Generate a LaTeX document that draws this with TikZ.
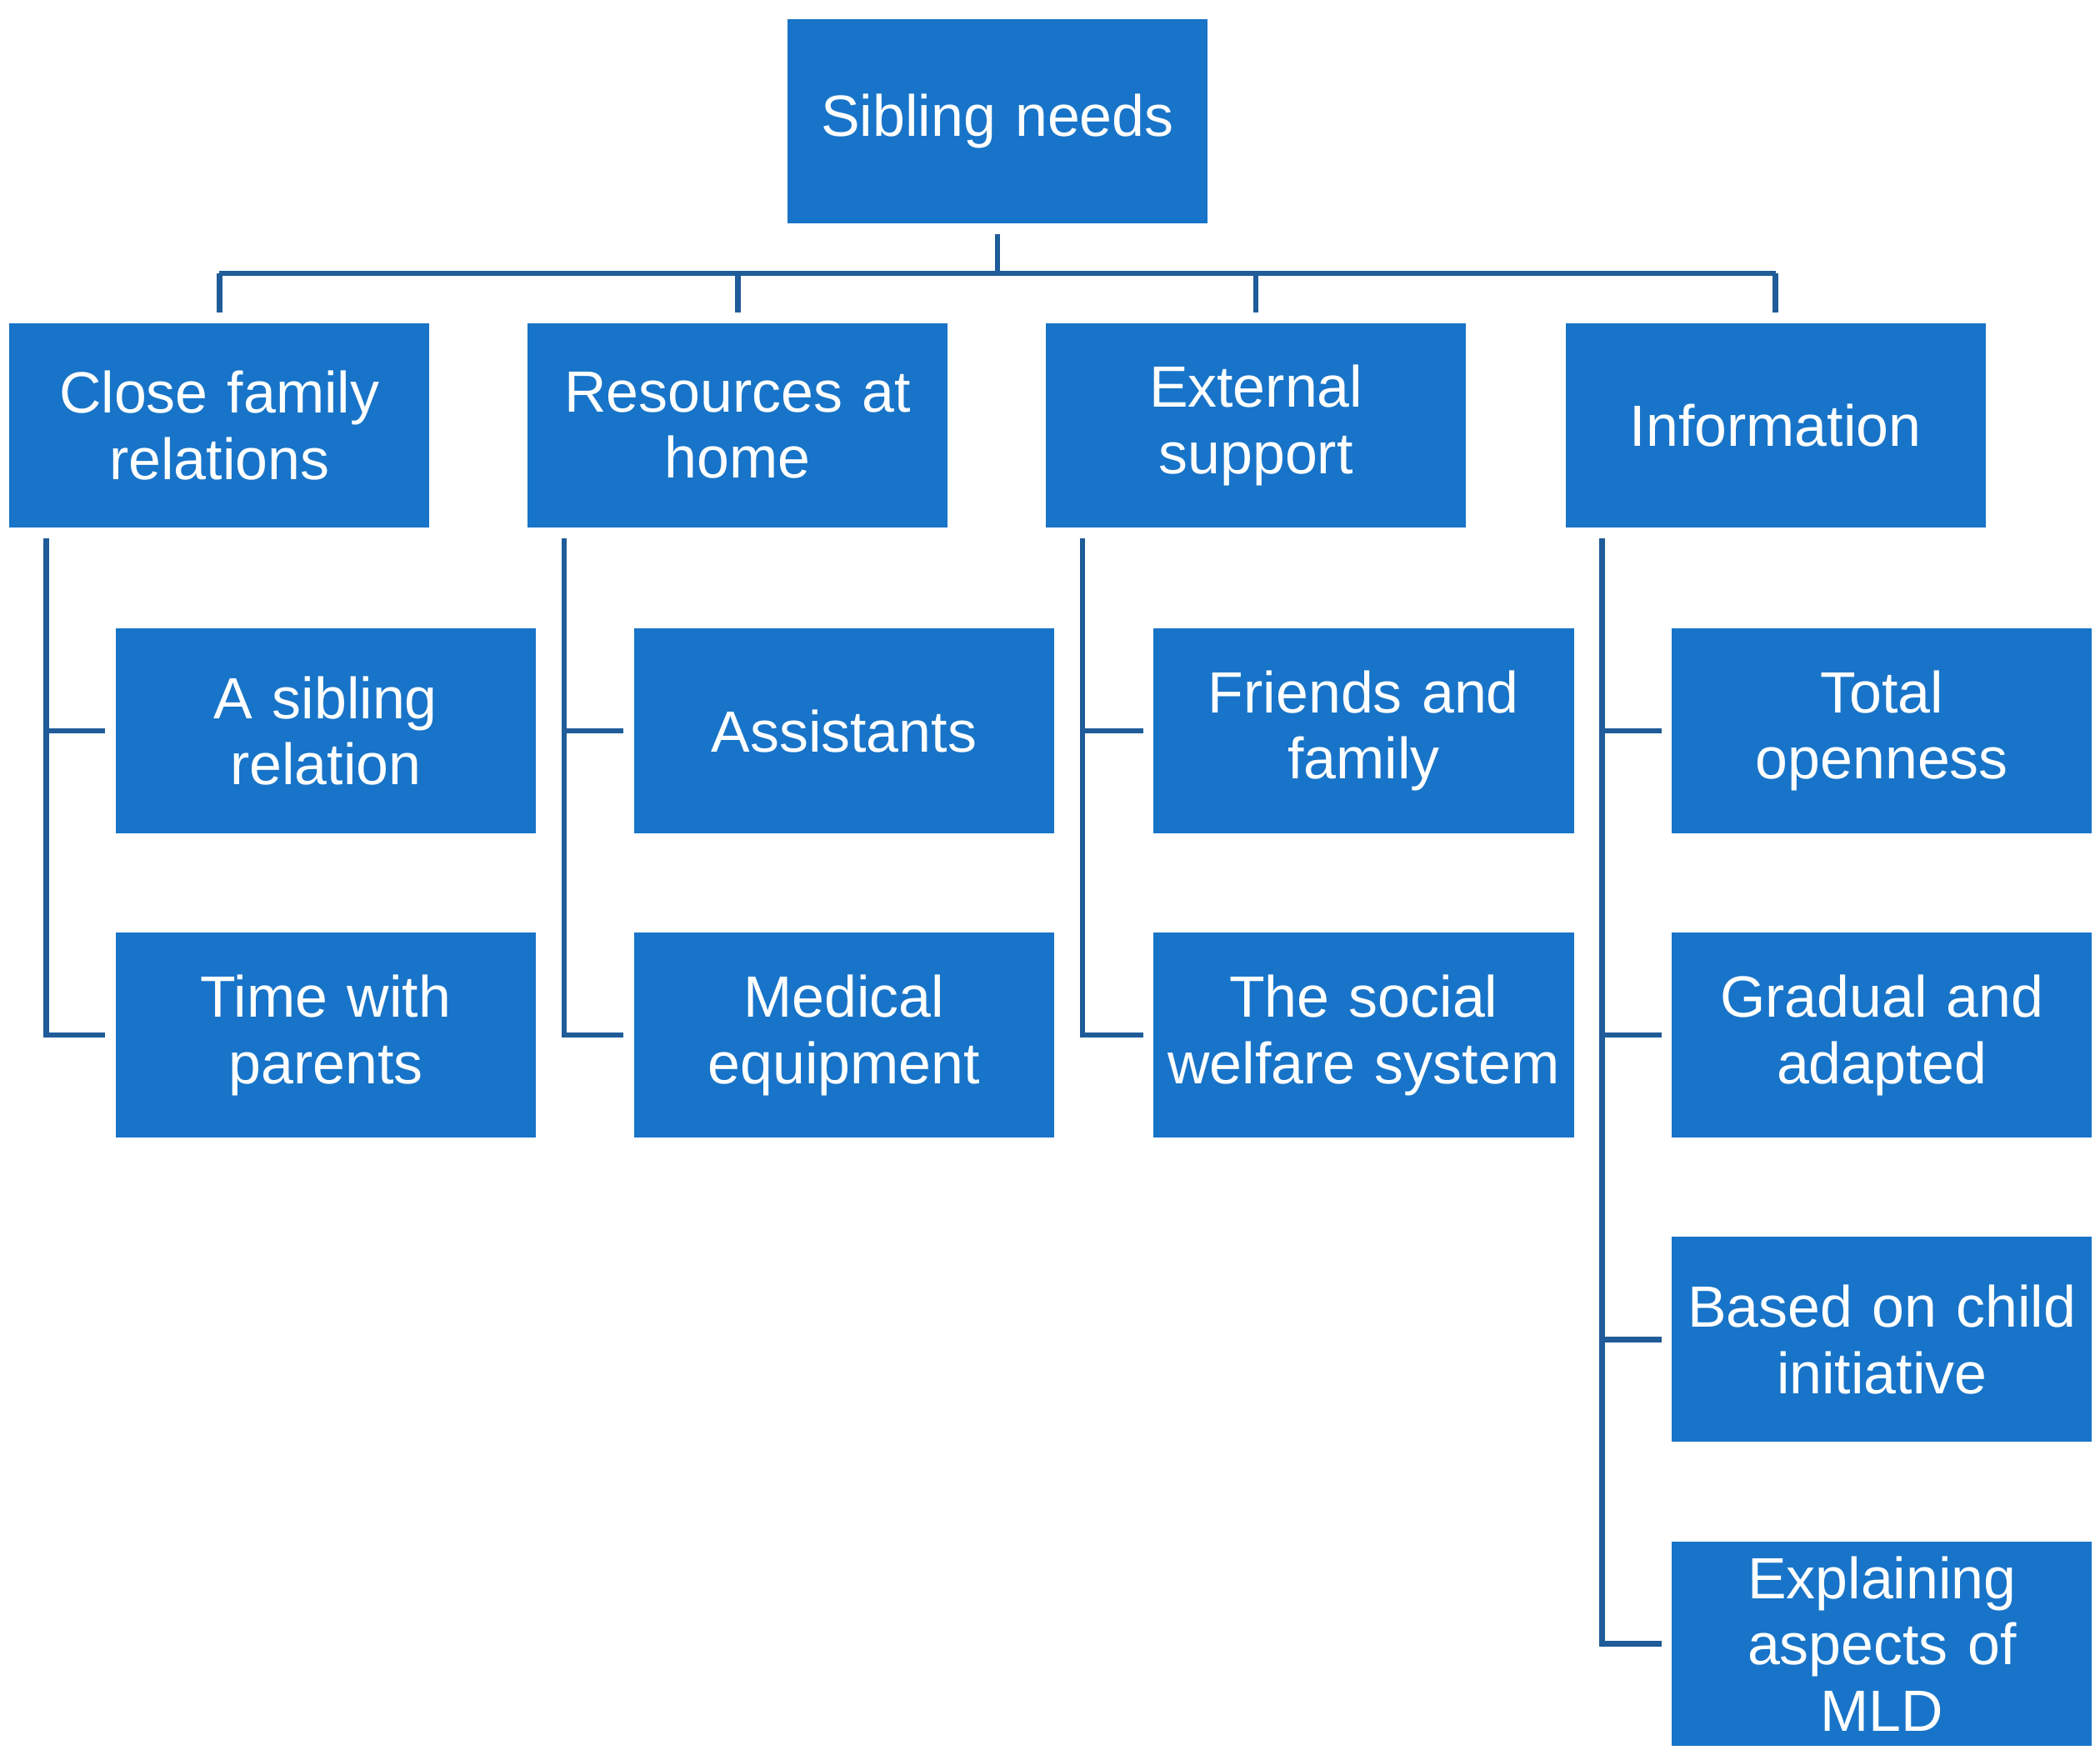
\documentclass[tikz,border=0pt]{standalone}
\usepackage{fontspec}
\setmainfont{Liberation Sans}
\begin{document}
\begin{tikzpicture}[x=0.01cm,y=-0.01cm,
  box/.style={draw=none,fill={rgb,255:red,24;green,116;blue,200},text=white,minimum width=3.12cm,minimum height=1.52cm,inner sep=0pt,align=center,text width=3.12cm,font=\fontsize{12.3}{14}\selectfont},
  ln/.style={draw={rgb,255:red,31;green,92;blue,153},line width=1.15pt}]
\useasboundingbox (0,0) rectangle (1560,1307);
\node[box] (root) at (741,90) {Sibling needs};
\foreach \n/\x/\t in {a/163/{Close family\\relations},b/548/{Resources at\\home},c/933/{External\\support},d/1319/{Information}}
  \node[box] (\n) at (\x,316) {\t};
\node[box] (a1) at (242,543) {A sibling\\relation};
\node[box] (a2) at (242,769) {Time with\\parents};
\node[box] (b1) at (627,543) {Assistants};
\node[box] (b2) at (627,769) {Medical\\equipment};
\node[box] (c1) at (1013,543) {Friends and\\family};
\node[box] (c2) at (1013,769) {The social\\welfare system};
\node[box] (d1) at (1398,543) {Total\\openness};
\node[box] (d2) at (1398,769) {Gradual and\\adapted};
\node[box] (d3) at (1398,995) {Based on child\\initiative};
\node[box] (d4) at (1398,1221) {Explaining\\aspects of\\MLD};
\coordinate (bus) at (741,203);
\draw[ln] ([yshift=-0.07cm]root.south) -- (bus);
\foreach \n in {a,b,c,d}
  \draw[ln] (bus -| \n.north) -- ([yshift=0.07cm]\n.north);
\draw[ln] (bus -| a.north) -- (bus -| d.north);
\foreach \p/\last in {a/a2,b/b2,c/c2,d/d4}{
  \coordinate (T\p) at ([xshift=0.28cm,yshift=-0.07cm]\p.south west);
  \draw[ln] (T\p) |- ([xshift=-0.07cm]\last.west);
}
\foreach \c/\p in {a1/a,b1/b,c1/c,d1/d,d2/d,d3/d}
  \draw[ln] (T\p |- \c.west) -- ([xshift=-0.07cm]\c.west);
\end{tikzpicture}
\end{document}
